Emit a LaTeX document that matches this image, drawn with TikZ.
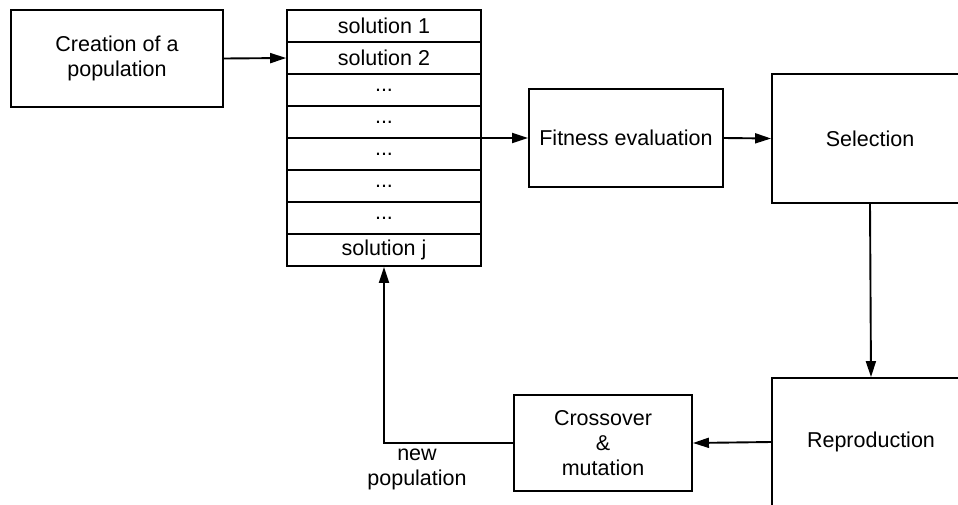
\documentclass[tikz,border=0pt]{standalone}
\usepackage{fontspec}
\setmainfont{Liberation Sans}
\usetikzlibrary{arrows.meta}
\begin{document}
\begin{tikzpicture}[x=1pt,y=-1pt,
  txt/.style={font=\fontsize{21.5}{25}\selectfont},
  box/.style={draw,line width=1.9pt,align=center,inner sep=0pt,txt},
  cell/.style={draw,line width=1.7pt,minimum width=194pt,minimum height=32pt,
    inner sep=0pt,txt},
  link/.style={line width=1.9pt,-{Triangle[length=16pt,width=10pt]}}]
\useasboundingbox (0,0) rectangle (958,504);
\clip (0,0) rectangle (958,504);

% population table
\node[cell] (r1) at (384,26) {solution 1};
\node[cell] (r2) at (384,58) {solution 2};
\node[cell] (r3) at (384,90) {...};
\node[cell] (r4) at (384,122) {...};
\node[cell] (r5) at (384,154) {...};
\node[cell] (r6) at (384,186) {...};
\node[cell] (r7) at (384,218) {...};
\node[cell] (r8) at (384,250) {solution j};

% process boxes
\node[box,minimum width=212pt,minimum height=97pt] (create) at (117,58.5)
  {Creation of a\\population};
\node[box,minimum width=194pt,minimum height=98pt] (fit) at (626,138)
  {Fitness evaluation};
\node[box,minimum width=196pt,minimum height=129pt] (sel) at (870,138.5)
  {Selection};
\node[box,minimum width=198pt,minimum height=128pt] (rep) at (871,442)
  {Reproduction};
\node[box,minimum width=178pt,minimum height=96pt] (cm) at (603,443)
  {Crossover\\\&\\mutation};

% flow
\draw[link] (create.east) -- (r2.west);
\draw[link] (fit.west -| r4.east) -- (fit.west);
\draw[link] (fit.east) -- (sel.west);
\draw[link] (sel.south) -- (rep.north);
\draw[link] (rep.west) -- (cm.east);
\coordinate (turn) at (cm.west -| r8.south);
\draw[link] (cm.west) -- (turn) -- (r8.south);
\node[align=center,inner sep=0pt,txt] (newpop) at (417,469) {new\\population};
\end{tikzpicture}
\end{document}
